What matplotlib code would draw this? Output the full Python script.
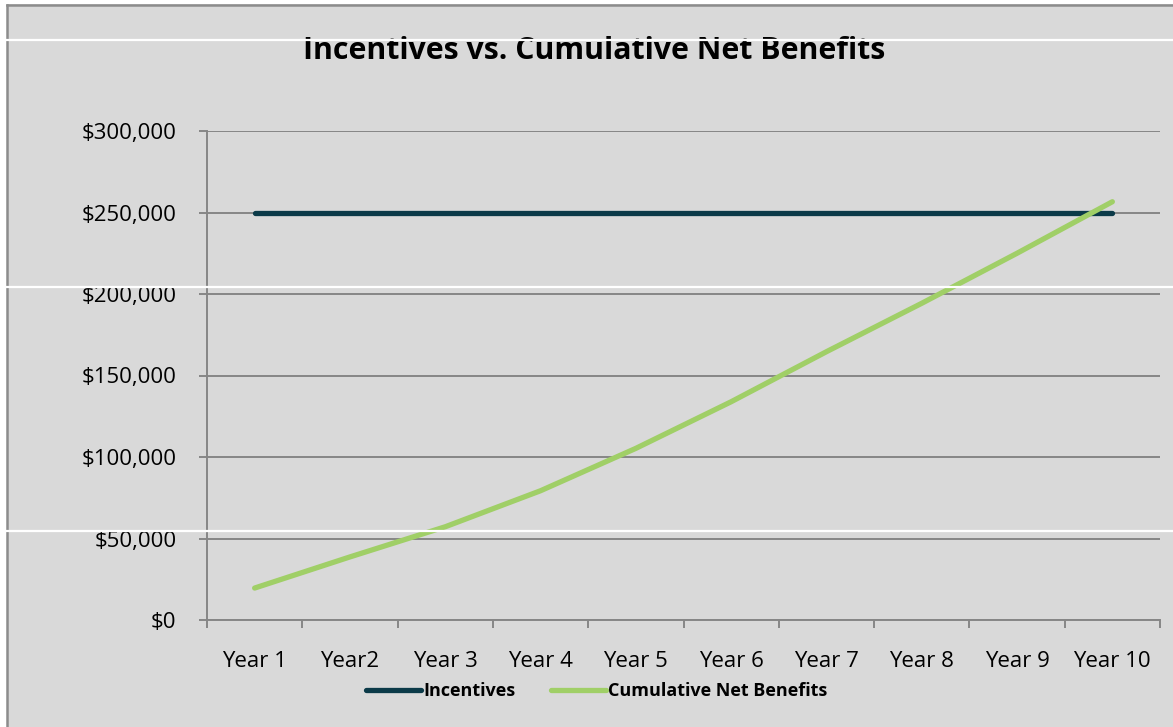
import matplotlib
matplotlib.use("Agg")
import matplotlib.pyplot as plt
from matplotlib.ticker import FuncFormatter, FixedLocator
from matplotlib.lines import Line2D

years = ["Year 1", "Year2", "Year 3", "Year 4", "Year 5", "Year 6", "Year 7", "Year 8", "Year 9", "Year 10"]
incentives = [250000] * 10
cumulative_net_benefits = [19600, 38700, 57200, 79300, 105300, 133900, 164600, 194300, 225000, 256600]
y_ticks = [0, 50000, 100000, 150000, 200000, 250000, 300000]

plt.rcParams['font.family'] = ['Open Sans', 'DejaVu Sans']

W, H = 1173, 727
fig = plt.figure(figsize=(W / 100, H / 100), dpi=100)
fig.patch.set_facecolor('white')

bg = '#D9D9D9'
fig.add_artist(plt.Rectangle((7 / W, 0), 1, 1 - 4 / H, transform=fig.transFigure,
                             facecolor=bg, edgecolor='none', zorder=-10))
fig.add_artist(Line2D([7 / W, 1], [1 - 4.5 / H, 1 - 4.5 / H], transform=fig.transFigure,
                      color='#8C8C8C', lw=1.8, zorder=-5))
fig.add_artist(Line2D([7 / W, 7 / W], [0, 1 - 4.5 / H], transform=fig.transFigure,
                      color='#8C8C8C', lw=1.8, zorder=-5))

ax = fig.add_axes([207 / W, 1 - 620 / H, (1160 - 207) / W, (620 - 131) / H])
ax.set_facecolor(bg)
x = list(range(len(years)))

ax.plot(x, incentives, color='#0B3A48', lw=3.8, solid_capstyle='round', label='Incentives', zorder=3)
ax.plot(x, cumulative_net_benefits, color='#A0CF67', lw=3.8, solid_capstyle='round',
        label='Cumulative Net Benefits', zorder=4)

ax.set_xlim(-0.5, len(years) - 0.5)
ax.set_ylim(0, 300000)
ax.set_yticks(y_ticks)
ax.yaxis.set_major_formatter(FuncFormatter(lambda v, p: '${:,.0f}'.format(v)))
ax.yaxis.grid(True, color='#868686', lw=1.4)
ax.set_axisbelow(True)

ax.set_xticks(x)
ax.set_xticklabels(years)
ax.xaxis.set_minor_locator(FixedLocator([i - 0.5 for i in range(len(years) + 1)]))
ax.tick_params(axis='x', which='major', length=0, pad=22, labelsize=16)
ax.tick_params(axis='x', which='minor', length=6, width=1.4, color='#868686', direction='out')
ax.tick_params(axis='y', length=6, width=1.4, color='#868686', labelsize=16, pad=16)

for s in ['top', 'right']:
    ax.spines[s].set_visible(False)
for s in ['left', 'bottom']:
    ax.spines[s].set_color('#868686')
    ax.spines[s].set_linewidth(1.4)

fig.text(594 / W, 1 - 51 / H, 'Incentives vs. Cumulative Net Benefits', ha='center', va='center',
         fontsize=21.8, fontweight='bold')

leg = fig.legend(loc='center', bbox_to_anchor=(597 / W, 1 - 691 / H), ncol=2, frameon=False,
                 prop={'weight': 'bold', 'size': 13}, handlelength=3.0, handletextpad=0.15,
                 columnspacing=2.0)

for yy in [40, 287, 531]:
    fig.add_artist(Line2D([7 / W, 1], [1 - yy / H, 1 - yy / H], transform=fig.transFigure,
                          color='white', lw=1.6, zorder=20))

fig.savefig('out.png', dpi=100, facecolor=fig.get_facecolor())
